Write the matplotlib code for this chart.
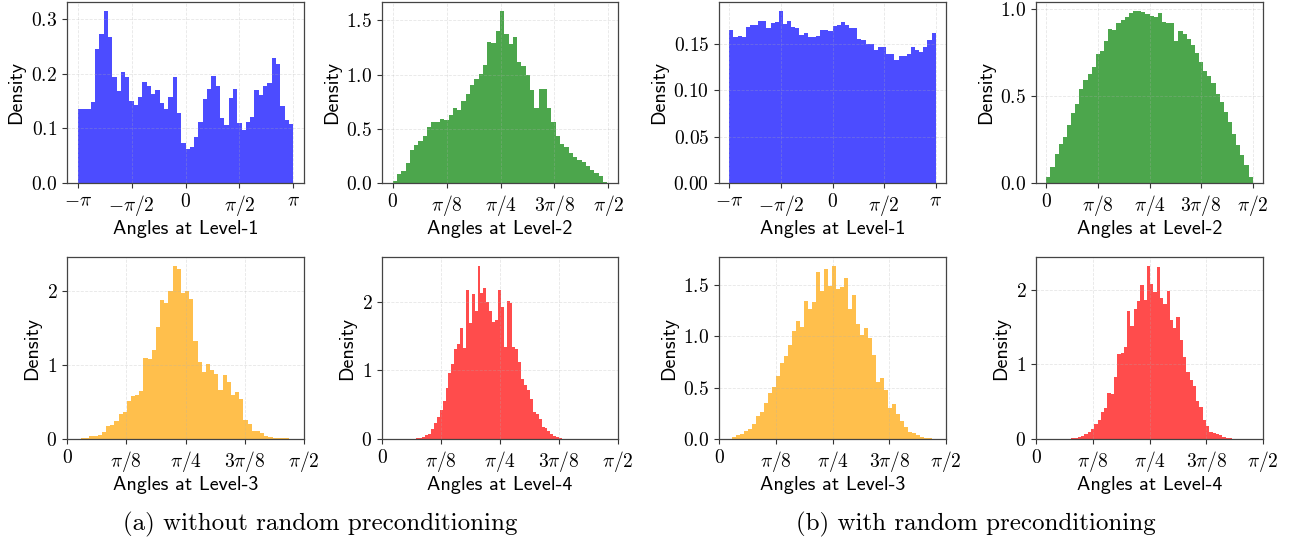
import numpy as np
import matplotlib
matplotlib.use("Agg")
from matplotlib import pyplot as plt
from matplotlib.ticker import MultipleLocator

plt.rcParams['mathtext.fontset'] = 'cm'
plt.rcParams['font.family'] = 'cmr10'
plt.rcParams['axes.formatter.use_mathtext'] = True
plt.rcParams['axes.unicode_minus'] = False

PI = np.pi

# bin heights (density), 50 bins per panel
# (a) without random preconditioning
lvl1_a = [0.136, 0.135, 0.135, 0.148, 0.245, 0.274, 0.316, 0.268, 0.194, 0.168,
          0.204, 0.194, 0.150, 0.143, 0.157, 0.185, 0.177, 0.164, 0.170, 0.147,
          0.136, 0.157, 0.195, 0.128, 0.074, 0.063, 0.066, 0.085, 0.111, 0.154,
          0.172, 0.197, 0.177, 0.120, 0.106, 0.155, 0.173, 0.110, 0.098, 0.111,
          0.121, 0.171, 0.162, 0.177, 0.183, 0.230, 0.218, 0.142, 0.116, 0.109]
lvl2_a = [0.02, 0.08, 0.11, 0.18, 0.30, 0.35, 0.39, 0.43, 0.52, 0.56,
          0.56, 0.59, 0.58, 0.63, 0.69, 0.67, 0.76, 0.82, 0.90, 0.96,
          1.01, 1.09, 1.30, 1.29, 1.40, 1.59, 1.37, 1.28, 1.35, 1.12,
          1.08, 1.00, 0.86, 0.69, 0.87, 0.87, 0.69, 0.56, 0.43, 0.36,
          0.33, 0.28, 0.24, 0.21, 0.19, 0.16, 0.12, 0.09, 0.06, 0.01]
lvl3_a = [0.014, 0.02, 0.04, 0.04, 0.06, 0.095, 0.17, 0.19, 0.24, 0.34,
          0.37, 0.52, 0.58, 0.59, 0.65, 1.10, 1.08, 1.21, 1.52, 1.89,
          1.84, 2.00, 2.35, 2.31, 1.98, 2.00, 1.90, 1.33, 1.05, 0.91,
          1.02, 0.93, 0.88, 0.67, 0.87, 0.77, 0.60, 0.64, 0.54, 0.26,
          0.20, 0.11, 0.11, 0.085, 0.04, 0.03, 0.02, 0.014, 0.008, 0.008]
lvl4_a = [0.01, 0.02, 0.034, 0.053, 0.08, 0.15, 0.24, 0.32, 0.43, 0.56,
          0.74, 0.97, 1.09, 1.31, 1.39, 1.62, 1.33, 2.17, 1.69, 2.11,
          1.87, 2.53, 2.13, 2.20, 2.00, 1.87, 1.71, 1.73, 2.18, 1.93,
          1.34, 2.01, 1.98, 1.34, 1.32, 1.13, 0.88, 0.79, 0.71, 0.58,
          0.39, 0.36, 0.29, 0.18, 0.155, 0.11, 0.07, 0.045, 0.025, 0.015]

# (b) with random preconditioning
lvl1_b = [0.165, 0.158, 0.159, 0.158, 0.168, 0.170, 0.170, 0.175, 0.175, 0.167,
          0.173, 0.174, 0.186, 0.172, 0.175, 0.168, 0.167, 0.160, 0.162, 0.157,
          0.157, 0.159, 0.165, 0.165, 0.164, 0.169, 0.170, 0.174, 0.171, 0.167,
          0.167, 0.155, 0.154, 0.150, 0.150, 0.143, 0.147, 0.147, 0.139, 0.139,
          0.133, 0.137, 0.137, 0.139, 0.147, 0.144, 0.141, 0.147, 0.154, 0.162]
lvl2_b = [0.036, 0.094, 0.165, 0.225, 0.267, 0.334, 0.401, 0.455, 0.539, 0.593,
          0.628, 0.670, 0.743, 0.762, 0.820, 0.885, 0.881, 0.919, 0.939, 0.958,
          0.977, 0.992, 0.987, 0.985, 0.973, 0.962, 0.958, 0.977, 0.927, 0.923,
          0.923, 0.816, 0.873, 0.858, 0.827, 0.793, 0.747, 0.697, 0.647, 0.616,
          0.574, 0.512, 0.466, 0.409, 0.351, 0.282, 0.217, 0.159, 0.102, 0.036]
lvl3_b = [0.016, 0.04, 0.05, 0.08, 0.10, 0.15, 0.22, 0.26, 0.35, 0.45,
          0.51, 0.61, 0.74, 0.81, 0.92, 1.05, 1.15, 1.09, 1.35, 1.27,
          1.34, 1.63, 1.44, 1.66, 1.49, 1.69, 1.46, 1.48, 1.57, 1.27,
          1.40, 1.12, 1.01, 1.08, 0.98, 0.82, 0.56, 0.59, 0.48, 0.30,
          0.34, 0.24, 0.18, 0.12, 0.07, 0.055, 0.036, 0.023, 0.013, 0.007]
lvl4_b = [0.004, 0.01, 0.018, 0.027, 0.045, 0.067, 0.10, 0.13, 0.20, 0.26,
          0.36, 0.41, 0.61, 0.60, 0.83, 1.14, 1.15, 1.23, 1.71, 1.51,
          1.74, 1.85, 2.06, 1.86, 2.32, 2.08, 1.97, 2.30, 1.89, 1.81,
          1.98, 1.59, 1.48, 1.63, 1.33, 1.10, 0.90, 0.79, 0.71, 0.51,
          0.43, 0.26, 0.17, 0.10, 0.085, 0.067, 0.05, 0.03, 0.018, 0.009]

# data range (min, max angle) of each histogram
range1_a, range2_a, range3_a, range4_a = (-PI, PI), (0.0, 1.563), (0.093, 1.473), (0.229, 1.198)
range1_b, range2_b, range3_b, range4_b = (-PI, PI), (0.0, PI / 2), (0.093, 1.473), (0.221, 1.358)

# y tick spacing per panel, as in the reference
ystep_a = [0.1, 0.5, 1, 1]
ystep_b = [0.05, 0.5, 0.5, 1]

level_names = ['Level-1', 'Level-2', 'Level-3', 'Level-4']
level_colors = ['blue', 'green', 'orange', 'red']
captions = ['(a) without random preconditioning', '(b) with random preconditioning']

ticks_full = [-PI, -PI / 2, 0, PI / 2, PI]
labels_full = [r'$-\pi$', r'$-\pi/2$', r'$0$', r'$\pi/2$', r'$\pi$']
ticks_half = [0, PI / 8, PI / 4, 3 * PI / 8, PI / 2]
labels_half = [r'$0$', r'$\pi/8$', r'$\pi/4$', r'$3\pi/8$', r'$\pi/2$']

W, H = 1290, 544
fig = plt.figure(figsize=(W / 100, H / 100), dpi=100)

# axes boxes in pixels: (left, right) per column, (top, bottom) per row
cols = [(67, 304), (382, 618), (719, 946), (1036, 1263)]
rows = [(2, 183), (257, 439)]


def px_rect(col, row):
    l, r = cols[col]
    t, b = rows[row]
    return [l / W, 1 - b / H, (r - l) / W, (b - t) / H]


def draw(ax, heights, rng, level, ystep):
    edges = np.linspace(rng[0], rng[1], len(heights) + 1)
    ax.hist(edges[:-1], bins=edges, weights=heights, color=level_colors[level], alpha=0.7)
    ax.grid(True, linestyle='--', linewidth=0.6, alpha=0.3)
    ax.set_ylabel('Density', family='cmss10', fontsize=14.5)
    ax.set_xlabel('Angles at ' + level_names[level], family='cmss10', fontsize=14.5, labelpad=2)
    if level == 0:
        ax.set_xticks(ticks_full, labels_full)
    else:
        ax.set_xticks(ticks_half, labels_half)
    if level >= 2:
        ax.set_xlim(0, PI / 2)
    ax.yaxis.set_major_locator(MultipleLocator(ystep))
    ax.tick_params(labelsize=14, length=3.5, width=0.8, color='#333333')
    for sp in ax.spines.values():
        sp.set_color('#444444')
        sp.set_linewidth(0.9)


panels = [
    [(lvl1_a, range1_a), (lvl2_a, range2_a), (lvl3_a, range3_a), (lvl4_a, range4_a)],
    [(lvl1_b, range1_b), (lvl2_b, range2_b), (lvl3_b, range3_b), (lvl4_b, range4_b)],
]
ysteps = [ystep_a, ystep_b]

for side in range(2):
    for level in range(4):
        col = side * 2 + level % 2
        row = level // 2
        ax = fig.add_axes(px_rect(col, row))
        heights, rng = panels[side][level]
        draw(ax, heights, rng, level, ysteps[side][level])

fig.text(320 / W, 1 - 524 / H, captions[0], family='cmr10', fontsize=18, ha='center', va='center')
fig.text(976 / W, 1 - 524 / H, captions[1], family='cmr10', fontsize=18, ha='center', va='center')

fig.savefig('out.png', dpi=100)
